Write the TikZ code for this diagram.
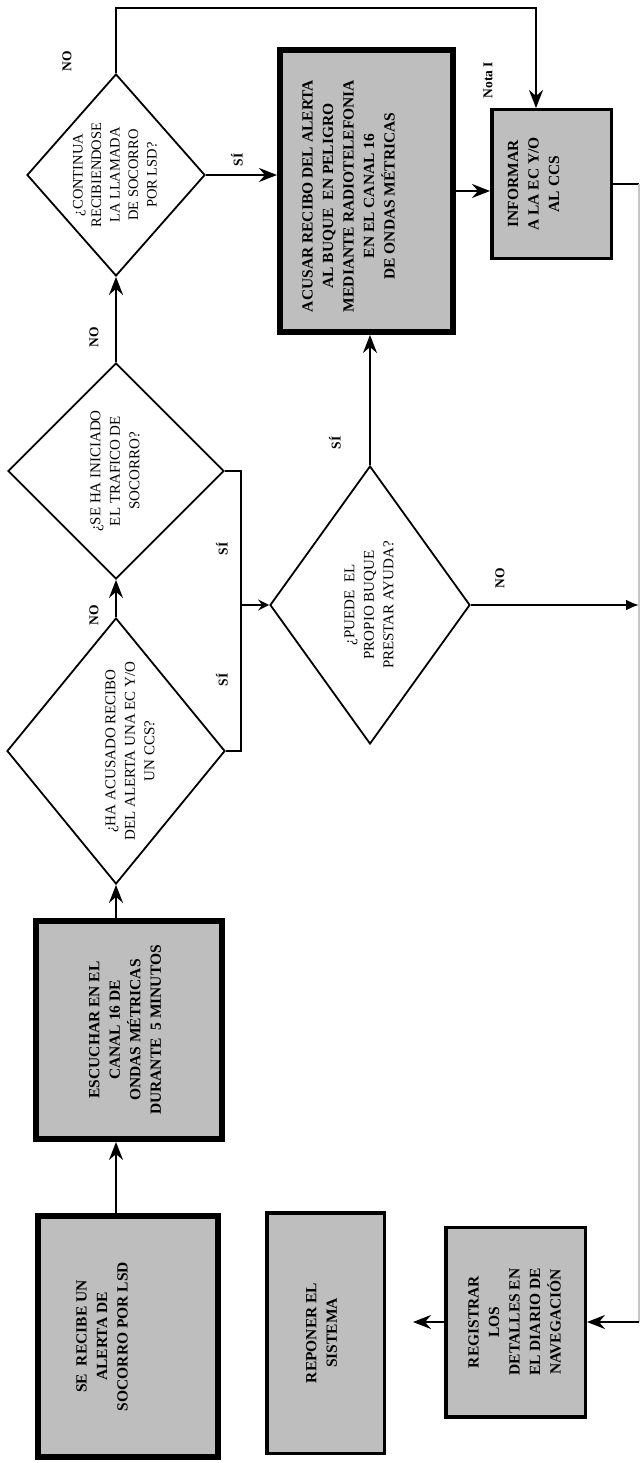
\documentclass[tikz,border=0pt]{standalone}
\usepackage{fontspec}
\setmainfont{Liberation Serif}
\usetikzlibrary{shapes.geometric,arrows.meta,calc}
\definecolor{boxfill}{RGB}{190,190,190}
\newcommand\rtxt[1]{\rotatebox{90}{\fontsize{15}{19.5}\selectfont\begin{tabular}{@{}c@{}}#1\end{tabular}}}
\newcommand\rbtxt[1]{\rotatebox{90}{\fontsize{15.5}{20.5}\selectfont\bfseries\begin{tabular}{@{}c@{}}#1\end{tabular}}}
\tikzset{
 thickbox/.style={draw, line width=6pt, fill=boxfill, inner sep=0pt},
 medbox/.style={draw, line width=3.5pt, fill=boxfill, inner sep=0pt},
 dia/.style={draw, diamond, line width=1.8pt, inner sep=0pt},
 conn/.style={line width=2.2pt},
 arr/.style={conn, -{Stealth[length=18pt,width=14pt,inset=6pt]}},
 smallarr/.style={conn, -{Stealth[length=11pt,width=11pt,inset=4pt]}},
 lbl/.style={font=\fontsize{13.5}{16}\selectfont\bfseries, rotate=90, inner sep=0pt},
}
\begin{document}
\begin{tikzpicture}[x=1pt,y=-1pt]
\useasboundingbox (0,0) rectangle (641,1463);
% boxes
\node[thickbox, minimum width=180pt, minimum height=241pt,
  label={[name=recibe-t,xshift=-25pt]center:\rbtxt{SE\ \ RECIBE UN\\ ALERTA DE\\ SOCORRO POR LSD}}] (recibe) at (128,1336.5) {};
\node[thickbox, minimum width=186pt, minimum height=218pt,
  label={[name=escuchar-t,xshift=-3pt]center:\rbtxt{ESCUCHAR EN EL\\ CANAL 16 DE\\ ONDAS MÉTRICAS\\ DURANTE\ \ 5 MINUTOS}}] (escuchar) at (129,1030) {};
\node[thickbox, minimum width=173pt, minimum height=282pt,
  label={[name=acusar-t,xshift=-17pt,yshift=-5pt]center:\rbtxt{ACUSAR RECIBO DEL ALERTA\\ AL BUQUE\ \ EN PELIGRO\\ MEDIANTE RADIOTELEFONIA\\ EN EL CANAL 16\\ DE ONDAS MÉTRICAS}}] (acusar) at (366.5,191) {};
\node[medbox, minimum width=119.5pt, minimum height=148.5pt,
  label={[name=informar-t,xshift=-17pt]center:\rbtxt{INFORMAR\\ A LA EC Y/O\\ AL CCS}}] (informar) at (551.5,184) {};
\node[medbox, minimum width=117.5pt, minimum height=240.5pt,
  label={[name=reponer-t,xshift=-3pt]center:\rbtxt{REPONER EL\\ SISTEMA}}] (reponer) at (325.5,1333) {};
\node[medbox, minimum width=139.5pt, minimum height=189.5pt,
  label={[name=registrar-t]center:\rbtxt{REGISTRAR\\ LOS\\ DETALLES EN\\ EL DIARIO DE\\ NAVEGACIÓN}}] (registrar) at (515.5,1322) {};
% diamonds
\node[dia, minimum width=218pt, minimum height=266pt,
  label={[name=acusado-t,xshift=15pt]center:\rtxt{¿HA ACUSADO RECIBO\\ DEL ALERTA UNA EC Y/O\\ UN CCS?}}] (acusado) at (116,751) {};
\node[dia, minimum width=216pt, minimum height=216pt,
  label={[name=iniciado-t]center:\rtxt{¿SE HA INICIADO\\ EL TRAFICO DE\\ SOCORRO?}}] (iniciado) at (116,471) {};
\node[dia, minimum width=178pt, minimum height=202pt,
  label={[name=continua-t]center:\rotatebox{90}{\fontsize{14.5}{18.5}\selectfont\begin{tabular}{@{}c@{}}¿CONTINUA\\ RECIBIENDOSE\\ LA LLAMADA\\ DE SOCORRO\\ POR LSD?\end{tabular}}}] (continua) at (116,175) {};
\node[dia, minimum width=200pt, minimum height=278pt,
  label={[name=puede-t]center:\rtxt{¿PUEDE\ \ EL\\ PROPIO BUQUE\\ PRESTAR AYUDA?}}] (puede) at (370,605) {};
% helper coordinates
\coordinate (topy) at (0,8);
\coordinate (loopx) at (536,0);
\coordinate (edge) at (639,0);
\coordinate (bx) at (241,0);
\coordinate (regend) at (413,0);
% connectors
\draw[arr] (recibe.north -| acusado.south) -- (escuchar.south -| acusado.south);
\draw[arr] (escuchar.north -| acusado.south) -- (acusado.south);
\draw[arr] (acusado.north) -- (iniciado.south);
\draw[arr] (iniciado.north) -- (continua.south);
\draw[arr] (continua.east) -- (continua.east -| acusar.west);
\draw[arr] (continua.north) -- (continua.north |- topy) -- (topy -| loopx) -- (loopx |- informar.north);
\draw[arr] (acusar.east) -- (acusar.east -| informar.west);
\draw[conn] (informar.east) -- (informar.east -| edge);
\draw[conn, gray!45] (informar.east -| edge) -- (registrar.east -| edge);
\draw[arr] (registrar.east -| edge) -- (registrar.east);
\draw[arr] (registrar.west) -- (regend |- registrar.west);
\draw[conn] (iniciado.east) -- (iniciado.east -| bx) -- (acusado.east -| bx) -- (acusado.east);
\draw[smallarr] (bx |- puede.west) -- (puede.west);
\draw[arr] (puede.north) -- (acusar.south -| puede.north);
\draw[conn, -{Latex[length=13pt,width=11pt]}] (puede.east) -- (puede.east -| edge);
% labels
\node[lbl] (no1) at (67,61) {NO};
\node[lbl] (si1) at (237,160) {SÍ};
\node[lbl] (no2) at (94,337) {NO};
\node[lbl] (no3) at (94,615) {NO};
\node[lbl] (si2) at (222,549) {SÍ};
\node[lbl] (si3) at (222,680) {SÍ};
\node[lbl] (si4) at (335,443) {SÍ};
\node[lbl] (no4) at (500,578) {NO};
\node[lbl] (nota) at (488,80) {Nota I};
\end{tikzpicture}
\end{document}
